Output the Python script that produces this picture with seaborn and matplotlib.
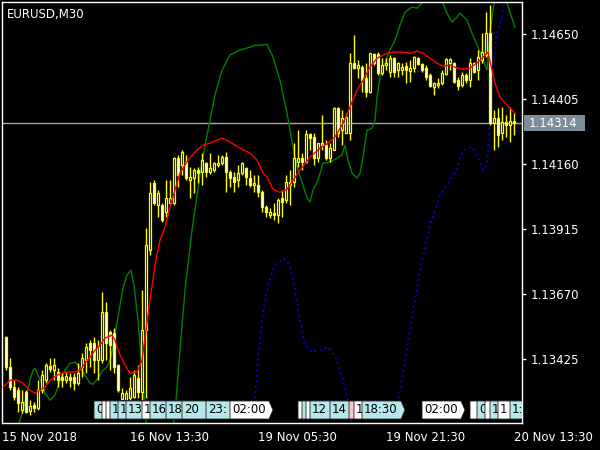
import numpy as np
import pandas as pd
import seaborn as sns
import matplotlib.pyplot as plt
import matplotlib.transforms as mtransforms
from matplotlib.patches import Polygon, Rectangle

# EURUSD M30 candles, bars 1..128 (bar 0 = 15 Nov 21:30)
opens = [1.13508, 1.13394, 1.13319, 1.13308, 1.13232, 1.13300, 1.13228, 1.13251, 1.13240, 1.13308,
         1.13345, 1.13398, 1.13383, 1.13376, 1.13357, 1.13345, 1.13357, 1.13357, 1.13334, 1.13394,
         1.13421, 1.13485, 1.13485, 1.13421, 1.13421, 1.13602, 1.13526, 1.13523, 1.13402, 1.13274,
         1.13270, 1.13277, 1.13281, 1.13353, 1.13300, 1.13534, 1.13835, 1.14088, 1.14005, 1.14005,
         1.13979, 1.14013, 1.14013, 1.14182, 1.14156, 1.14167, 1.14099, 1.14107, 1.14137, 1.14130,
         1.14163, 1.14130, 1.14137, 1.14156, 1.14163, 1.14186, 1.14130, 1.14111, 1.14099, 1.14126,
         1.14145, 1.14107, 1.14081, 1.14081, 1.14054, 1.13998, 1.13967, 1.13975, 1.13967, 1.14032,
         1.14024, 1.14081, 1.14092, 1.14167, 1.14182, 1.14167, 1.14273, 1.14262, 1.14182, 1.14231,
         1.14231, 1.14182, 1.14213, 1.14371, 1.14288, 1.14277, 1.14277, 1.14541, 1.14522, 1.14525,
         1.14484, 1.14431, 1.14574, 1.14574, 1.14503, 1.14533, 1.14507, 1.14559, 1.14514, 1.14514,
         1.14529, 1.14510, 1.14522, 1.14559, 1.14537, 1.14522, 1.14495, 1.14450, 1.14458, 1.14465,
         1.14499, 1.14541, 1.14541, 1.14476, 1.14458, 1.14495, 1.14476, 1.14541, 1.14514, 1.14552,
         1.14571, 1.14654, 1.14314, 1.14333, 1.14277, 1.14318, 1.14307, 1.14322]
highs = [1.13511, 1.13428, 1.13345, 1.13319, 1.13308, 1.13308, 1.13270, 1.13262, 1.13345, 1.13383,
         1.13409, 1.13428, 1.13428, 1.13391, 1.13372, 1.13376, 1.13372, 1.13372, 1.13409, 1.13447,
         1.13485, 1.13496, 1.13508, 1.13496, 1.13677, 1.13639, 1.13534, 1.13541, 1.13406, 1.13315,
         1.13308, 1.13357, 1.13383, 1.13402, 1.13685, 1.13918, 1.14092, 1.14099, 1.14062, 1.14013,
         1.14099, 1.14099, 1.14186, 1.14194, 1.14213, 1.14194, 1.14148, 1.14145, 1.14148, 1.14201,
         1.14167, 1.14201, 1.14167, 1.14194, 1.14194, 1.14205, 1.14137, 1.14130, 1.14156, 1.14167,
         1.14148, 1.14137, 1.14118, 1.14118, 1.14062, 1.14005, 1.13994, 1.14013, 1.14032, 1.14062,
         1.14118, 1.14137, 1.14239, 1.14288, 1.14201, 1.14288, 1.14277, 1.14277, 1.14239, 1.14344,
         1.14250, 1.14239, 1.14375, 1.14375, 1.14363, 1.14352, 1.14578, 1.14646, 1.14552, 1.14533,
         1.14541, 1.14578, 1.14578, 1.14582, 1.14559, 1.14559, 1.14571, 1.14563, 1.14544, 1.14541,
         1.14544, 1.14552, 1.14567, 1.14563, 1.14541, 1.14533, 1.14503, 1.14469, 1.14484, 1.14514,
         1.14559, 1.14559, 1.14544, 1.14488, 1.14507, 1.14503, 1.14559, 1.14544, 1.14590, 1.14654,
         1.14733, 1.14759, 1.14363, 1.14371, 1.14375, 1.14344, 1.14375, 1.14352]
lows = [1.13383, 1.13308, 1.13270, 1.13225, 1.13221, 1.13221, 1.13213, 1.13225, 1.13232, 1.13296,
        1.13334, 1.13376, 1.13345, 1.13319, 1.13319, 1.13334, 1.13319, 1.13308, 1.13327, 1.13357,
        1.13372, 1.13394, 1.13372, 1.13345, 1.13409, 1.13421, 1.13383, 1.13372, 1.13300, 1.13270,
        1.13262, 1.13262, 1.13277, 1.13277, 1.13270, 1.13277, 1.13817, 1.14005, 1.13960, 1.13941,
        1.13960, 1.14005, 1.14005, 1.14073, 1.14118, 1.14099, 1.14032, 1.14050, 1.14088, 1.14081,
        1.14111, 1.14122, 1.14130, 1.14148, 1.14156, 1.14054, 1.14073, 1.14054, 1.14073, 1.14118,
        1.14081, 1.14073, 1.14054, 1.14035, 1.13979, 1.13960, 1.13956, 1.13949, 1.13937, 1.13960,
        1.14013, 1.14005, 1.14073, 1.14148, 1.14137, 1.14163, 1.14213, 1.14156, 1.14167, 1.14213,
        1.14175, 1.14167, 1.14213, 1.14262, 1.14231, 1.14277, 1.14250, 1.14518, 1.14484, 1.14431,
        1.14412, 1.14427, 1.14533, 1.14495, 1.14495, 1.14514, 1.14488, 1.14488, 1.14488, 1.14495,
        1.14465, 1.14469, 1.14507, 1.14533, 1.14507, 1.14476, 1.14450, 1.14420, 1.14446, 1.14458,
        1.14495, 1.14514, 1.14465, 1.14439, 1.14450, 1.14465, 1.14450, 1.14503, 1.14476, 1.14541,
        1.14563, 1.14307, 1.14213, 1.14224, 1.14250, 1.14262, 1.14243, 1.14269]
closes = [1.13394, 1.13319, 1.13281, 1.13259, 1.13262, 1.13225, 1.13247, 1.13240, 1.13308, 1.13364,
          1.13402, 1.13387, 1.13402, 1.13345, 1.13345, 1.13360, 1.13345, 1.13334, 1.13372, 1.13428,
          1.13470, 1.13458, 1.13421, 1.13470, 1.13602, 1.13485, 1.13477, 1.13394, 1.13308, 1.13296,
          1.13296, 1.13315, 1.13364, 1.13300, 1.13534, 1.13854, 1.14050, 1.14013, 1.14050, 1.13949,
          1.14032, 1.14032, 1.14182, 1.14118, 1.14205, 1.14107, 1.14111, 1.14137, 1.14126, 1.14175,
          1.14130, 1.14145, 1.14163, 1.14163, 1.14186, 1.14130, 1.14107, 1.14092, 1.14126, 1.14163,
          1.14111, 1.14081, 1.14088, 1.14054, 1.13998, 1.13979, 1.13979, 1.13967, 1.14024, 1.14017,
          1.14092, 1.14092, 1.14182, 1.14182, 1.14167, 1.14273, 1.14258, 1.14182, 1.14239, 1.14239,
          1.14182, 1.14220, 1.14371, 1.14277, 1.14333, 1.14337, 1.14541, 1.14522, 1.14533, 1.14476,
          1.14431, 1.14578, 1.14541, 1.14503, 1.14533, 1.14541, 1.14559, 1.14507, 1.14541, 1.14525,
          1.14514, 1.14522, 1.14563, 1.14537, 1.14514, 1.14488, 1.14454, 1.14465, 1.14465, 1.14503,
          1.14556, 1.14556, 1.14469, 1.14454, 1.14495, 1.14476, 1.14541, 1.14507, 1.14563, 1.14582,
          1.14654, 1.14314, 1.14333, 1.14269, 1.14318, 1.14307, 1.14322, 1.14314]

# red moving average
ma_bar = [0.25, 2, 3.75, 5.25, 7, 8.25, 9.5, 10.75, 12, 13.75, 15.75, 18.25, 19.5, 20.75, 22, 23.25,
          24.5, 25.75, 27.5, 28.25, 29.5, 30.75, 32, 33.75, 35, 36, 37, 38.25, 39.5, 40.75, 42, 43.25,
          44.5, 46.5, 48.75, 50.25, 52, 55, 57, 59.5, 62, 63.75, 65.25, 66.25, 67.75, 69.5, 71.25,
          72.75, 74.5, 77, 79.5, 81.5, 83.25, 85.25, 87, 88.75, 90.25, 92, 93.75, 96.25, 98.25,
          100.25, 102, 103.75, 105.25, 107, 108.75, 110.25, 112, 113.75, 115.25, 117, 118.75,
          120.25, 121.5, 122.5, 123.25, 124.5, 126.25, 128.25]
ma_price = [1.13319, 1.13345, 1.13345, 1.13334, 1.13308, 1.13296, 1.13308, 1.13319, 1.13345, 1.13364,
            1.13376, 1.13376, 1.13383, 1.13409, 1.13432, 1.13458, 1.13477, 1.13504, 1.13515, 1.13496,
            1.13440, 1.13402, 1.13372, 1.13376, 1.13421, 1.13534, 1.13647, 1.13779, 1.13873, 1.13922,
            1.13998, 1.14062, 1.14126, 1.14175, 1.14213, 1.14231, 1.14239, 1.14258, 1.14243, 1.14220,
            1.14201, 1.14175, 1.14126, 1.14111, 1.14065, 1.14054, 1.14065, 1.14099, 1.14137, 1.14186,
            1.14220, 1.14239, 1.14262, 1.14314, 1.14375, 1.14439, 1.14476, 1.14525, 1.14559, 1.14578,
            1.14582, 1.14582, 1.14578, 1.14586, 1.14578, 1.14559, 1.14541, 1.14529, 1.14533, 1.14522,
            1.14518, 1.14522, 1.14541, 1.14563, 1.14582, 1.14514, 1.14465, 1.14412, 1.14382, 1.14352]

# green indicator line
green_bar = [4, 4.5, 5.25, 6.25, 7, 7.75, 8.25, 9, 10, 10.75, 12, 13.25, 14.5, 15.75, 17, 18.25,
             19.5, 20.75, 22, 22.75, 24, 25.25, 26.25, 27, 27.75, 28.75, 29.5, 30.25, 31.25, 32.25,
             33, 34, 35, 36, 36.75, 38.5, 40.5, 42.5, 43.5, 44.5, 45.75, 47.5, 49.5, 50.75, 52,
             53.25, 55, 57, 59.5, 62, 63.25, 64.5, 66.25, 67.75, 69.5, 71.25, 72.75, 74, 75, 76.25,
             77, 77.75, 79, 80.25, 82, 83.75, 85, 85.75, 86.5, 87.5, 88.75, 89.5, 90.25, 91.25,
             92.5, 93.25, 93.75, 94.5, 95.75, 97, 98.25, 99.5, 100.75, 102.5, 103.75, 105, 106.5,
             109, 110.25, 111.25, 112.5, 113.75, 114.5, 116.25, 117.5, 119, 120.25, 121.25, 122,
             122.75, 123.5, 125.5, 126.25, 127.25, 128.25]
green_price = [1.13164, 1.13195, 1.13232, 1.13296, 1.13345, 1.13383, 1.13391, 1.13364, 1.13334, 1.13296,
               1.13270, 1.13289, 1.13345, 1.13383, 1.13409, 1.13413, 1.13394, 1.13364, 1.13334, 1.13330,
               1.13353, 1.13383, 1.13394, 1.13421, 1.13470, 1.13560, 1.13628, 1.13692, 1.13741, 1.13760,
               1.13704, 1.13572, 1.13383, 1.13195, 1.13082, 1.12900, 1.12900, 1.13119, 1.13270, 1.13459,
               1.13685, 1.13911, 1.14118, 1.14231, 1.14326, 1.14420, 1.14514, 1.14571, 1.14590, 1.14601,
               1.14608, 1.14608, 1.14612, 1.14563, 1.14476, 1.14352, 1.14224, 1.14137, 1.14092, 1.14032,
               1.14017, 1.14062, 1.14099, 1.14163, 1.14167, 1.14182, 1.14194, 1.14231, 1.14175, 1.14126,
               1.14107, 1.14126, 1.14186, 1.14288, 1.14295, 1.14326, 1.14412, 1.14488, 1.14541, 1.14590,
               1.14627, 1.14684, 1.14733, 1.14752, 1.14748, 1.14767, 1.14808, 1.14808, 1.14767, 1.14729,
               1.14695, 1.14714, 1.14729, 1.14703, 1.14654, 1.14601, 1.14552, 1.14514, 1.14654, 1.14740,
               1.14808, 1.14808, 1.14767, 1.14721, 1.14676]

# blue dotted indicator, two separate runs
blue_bar_a = [62.75, 64, 65, 66.5, 68.25, 70.25, 72, 73.25, 74.5, 75.75, 77.5, 79.5, 81.5, 83.25, 85, 86.5, 87.5]
blue_price_a = [1.13176, 1.13421, 1.13572, 1.13704, 1.13779, 1.13805, 1.13779, 1.13685, 1.13572,
                1.13477, 1.13451, 1.13458, 1.13470, 1.13440, 1.13364, 1.13270, 1.13176]
blue_bar_b = [97.75, 99.5, 102, 104.5, 107, 109.5, 112, 113.75, 114.5, 116.25, 117.75, 119, 120.25,
              121.25, 122, 122.75, 123.75, 125, 125.75]
blue_price_b = [1.13176, 1.13308, 1.13534, 1.13760, 1.13930, 1.14043, 1.14099, 1.14137, 1.14186,
                1.14224, 1.14220, 1.14186, 1.14137, 1.14156, 1.14326, 1.14525, 1.14654, 1.14714, 1.14797]

# time labels along the bottom: start bar, the part of the text left visible, colour
label_bar = [23, 25, 26, 27, 29, 31, 35, 37, 41, 45, 51, 57,
             74, 75, 76, 77, 82, 86.75, 88, 90, 105, 117, 118.75, 120.75, 122, 124, 127]
label_text = ["0", "", "", "1", "1", "13", "1", "16", "18", "20", "23:", "02:00",
              "", "", "", "12", "14", "", "1", "18:30", "02:00", "", "0", "", "1", "1", "1:"]
label_kind = ["c", "w", "w", "c", "c", "c", "w", "c", "c", "c", "c", "w",
              "w", "c", "w", "c", "c", "p", "w", "c", "w", "w", "c", "w", "c", "w", "c"]

date_bars = [0, 32, 64, 96, 128]
date_labels = ["15 Nov 2018", "16 Nov 13:30", "19 Nov 05:30", "19 Nov 21:30", "20 Nov 13:30"]
price_ticks = [1.14650, 1.14405, 1.14160, 1.13915, 1.13670, 1.13425]
last_price = 1.14314

sns.set_style("dark", {"axes.facecolor": "black", "figure.facecolor": "black",
                       "axes.edgecolor": "white", "text.color": "white",
                       "xtick.color": "white", "ytick.color": "white"})
plt.rcParams['font.family'] = ['DejaVu Sans']

fig = plt.figure(figsize=(6, 4.5), dpi=100)
ax = fig.add_axes([2 / 600, 27 / 450, 520 / 600, 421 / 450])
ax.set_facecolor("black")

# candles
bars = np.arange(1, len(opens) + 1)
o = np.array(opens)
c = np.array(closes)
ax.vlines(bars, lows, highs, color="#ffff00", lw=1, zorder=3)
bottom = np.minimum(o, c)
height = np.maximum(np.abs(c - o), 1e-7)
fill = np.where(c < o, "white", "black")
ax.bar(bars, height, bottom=bottom, width=0.7, color=fill, edgecolor="#ffff00",
       linewidth=0.9, zorder=4)

# current price line
ax.axhline(last_price, color="#a8a8a8", lw=1, zorder=2)

# indicator lines
sns.lineplot(x=ma_bar, y=ma_price, ax=ax, color="#ff0000", lw=1, zorder=5)
sns.lineplot(x=green_bar, y=green_price, ax=ax, color="#008000", lw=1, zorder=2, sort=False)
blue = pd.DataFrame({
    "bar": blue_bar_a + blue_bar_b,
    "price": blue_price_a + blue_price_b,
    "seg": ["a"] * len(blue_bar_a) + ["b"] * len(blue_bar_b),
})
sns.lineplot(data=blue, x="bar", y="price", units="seg", estimator=None, ax=ax,
             color="#0000ff", lw=1.3, linestyle=(0, (1, 2)), zorder=2)

ax.set_xlim(0, 130)
ax.set_ylim(1.13184, 1.14771)
ax.set_xlabel("")
ax.set_ylabel("")
ax.grid(False)

# time label boxes, each one drawn over the one before
colors = {"c": "#b4e8ea", "w": "#ffffff", "p": "#ffc0cb"}
trans = mtransforms.blended_transform_factory(ax.transData, ax.transAxes)
y0, y1 = 0.0095, 0.0523
w, tip = 10.75, 1.0
for k, (xb, txt, kind) in enumerate(zip(label_bar, label_text, label_kind)):
    poly = Polygon([(xb, y0), (xb + w - tip, y0), (xb + w, (y0 + y1) / 2),
                    (xb + w - tip, y1), (xb, y1)], closed=True, transform=trans,
                   facecolor=colors[kind], edgecolor="#202020", lw=0.6, zorder=10 + 2 * k)
    ax.add_patch(poly)
    if txt:
        t = ax.text(xb + 0.5, (y0 + y1) / 2, txt, transform=trans, fontsize=8.5, color="black",
                    ha="left", va="center", zorder=11 + 2 * k)
        t.set_clip_path(poly)

# axes, ticks
for s in ax.spines.values():
    s.set_color("white")
    s.set_linewidth(1)
ax.set_xticks(date_bars)
ax.set_xticklabels(date_labels, ha="left", fontsize=8.5, color="white")
ax.tick_params(axis="x", direction="out", length=3, width=1, color="white", pad=3)
ax.yaxis.tick_right()
ax.set_yticks(price_ticks)
ax.set_yticklabels([f"{p:.5f}" for p in price_ticks], fontsize=8.5, color="white")
ax.tick_params(axis="y", direction="out", length=3, width=1, color="white", pad=3)

ax.text(0.0096, 0.986, "EURUSD,M30", transform=ax.transAxes, fontsize=8.5,
        color="white", ha="left", va="top")

# current price tag on the right scale
fig.canvas.draw()
ypx = ax.transData.transform((0, last_price))[1]
xpx = ax.transAxes.transform((1, 0))[0]
fig.add_artist(Rectangle((xpx + 2, ypx - 8), 61, 16, transform=None,
                         facecolor="#7f8c9a", edgecolor="none", zorder=20))
fig.text((xpx + 7) / 600, ypx / 450, f"{last_price:.5f}", fontsize=8.5, color="white",
         ha="left", va="center", zorder=21)

fig.savefig("out.png", dpi=100, facecolor="black")
